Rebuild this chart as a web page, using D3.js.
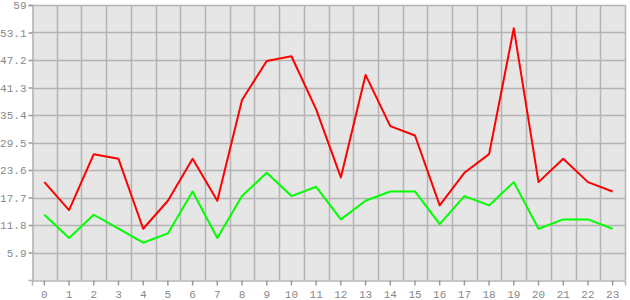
<!DOCTYPE html>
<html>
<head>
<meta charset="utf-8">
<script src="https://cdn.jsdelivr.net/npm/d3@7"></script>
<style>
  body { margin: 0; background: #fff; }
  svg { display: block; }
</style>
</head>
<body>
<div id="chart"></div>
<script>
// chart values
const hours = d3.range(0, 24).map(String);
const redSeries = [21, 15, 27, 26, 11, 17, 26, 17, 38.6, 47, 48, 36.6, 22, 44, 33, 31, 16, 23, 27, 54, 21, 26, 21, 19];
const greenSeries = [14, 9, 14, 11, 8, 10, 19, 9, 18, 23, 18, 20, 13, 17, 19, 19, 12, 18, 16, 21, 11, 13, 13, 11];
const yTicks = [5.9, 11.8, 17.7, 23.6, 29.5, 35.4, 41.3, 47.2, 53.1, 59];
const yMax = 59;

const width = 630;
const height = 300;
const plotLeft = 32, plotRight = 625, plotTop = 5, plotBottom = 280;
const gridColor = '#b4b4b4';
const textColor = '#888';

const svg = d3.select('#chart')
  .append('svg')
  .attr('width', width)
  .attr('height', height);

const x = d3.scaleBand().domain(hours).range([plotLeft, plotRight]);
const y = d3.scaleLinear().domain([0, yMax]).range([plotBottom, plotTop]);

// plot background
svg.append('rect')
  .attr('x', plotLeft)
  .attr('y', plotTop)
  .attr('width', plotRight - plotLeft)
  .attr('height', plotBottom - plotTop)
  .attr('fill', '#e6e6e6');

// vertical grid on band edges
const edges = hours.map((h) => x(h)).concat([plotRight]);
svg.append('g')
  .selectAll('line')
  .data(edges.slice(1))
  .join('line')
  .attr('x1', (d) => Math.round(d) + 0.5)
  .attr('x2', (d) => Math.round(d) + 0.5)
  .attr('y1', plotTop)
  .attr('y2', plotBottom)
  .attr('stroke', gridColor)
  .attr('stroke-width', 1.5);

// horizontal grid
svg.append('g')
  .selectAll('line')
  .data(yTicks)
  .join('line')
  .attr('x1', plotLeft)
  .attr('x2', plotRight)
  .attr('y1', (d) => Math.round(y(d)) + 0.5)
  .attr('y2', (d) => Math.round(y(d)) + 0.5)
  .attr('stroke', gridColor)
  .attr('stroke-width', 1.5);

// y axis
const yAxis = svg.append('g')
  .attr('transform', `translate(${plotLeft + 0.5},0)`)
  .call(d3.axisLeft(y).tickValues(yTicks).tickSize(4).tickPadding(2).tickFormat(d3.format('.1~f')));

// x axis
const xAxis = svg.append('g')
  .attr('transform', `translate(0,${plotBottom + 0.5})`)
  .call(d3.axisBottom(x).tickSize(5).tickPadding(5));

[yAxis, xAxis].forEach((ax) => {
  ax.select('.domain').attr('stroke', gridColor).attr('stroke-width', 1.5);
  ax.selectAll('.tick line').attr('stroke', '#999').attr('stroke-width', 1.5);
  ax.selectAll('.tick text')
    .attr('fill', textColor)
    .style('font-family', '"Liberation Mono", monospace')
    .style('font-size', '11px');
});

// lines
const line = d3.line()
  .x((d, i) => x(hours[i]) + x.bandwidth() / 2)
  .y((d) => y(d));

[[redSeries, '#ff0000'], [greenSeries, '#00ff00']].forEach(([series, color]) => {
  svg.append('path')
    .datum(series)
    .attr('fill', 'none')
    .attr('stroke', color)
    .attr('stroke-width', 2)
    .attr('stroke-linejoin', 'round')
    .attr('d', line);
});
</script>
</body>
</html>
